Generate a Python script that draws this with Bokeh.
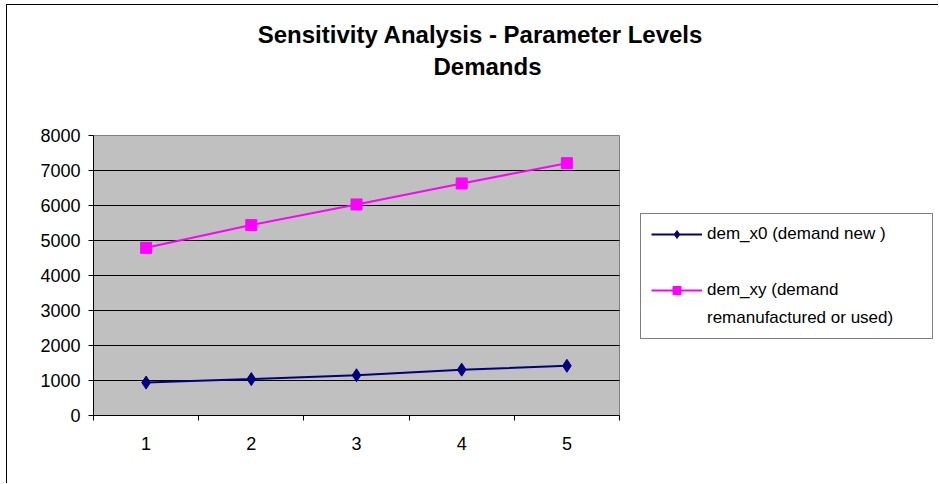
from bokeh.plotting import figure
from bokeh.models import Range1d, FixedTicker, Legend, LegendItem, Label
from bokeh.embed import file_html
from bokeh.resources import INLINE

# ---- data ----
categories = ["1", "2", "3", "4", "5"]
x_pos = [1, 2, 3, 4, 5]
dem_x0 = [940, 1040, 1150, 1310, 1420]
dem_xy = [4790, 5440, 6030, 6630, 7210]
y_ticks = [0, 1000, 2000, 3000, 4000, 5000, 6000, 7000, 8000]
cat_bounds = [0.5, 1.5, 2.5, 3.5, 4.5, 5.5]
title_lines = ["Sensitivity Analysis - Parameter Levels", "Demands"]
name_x0 = "dem_x0 (demand new )"
name_xy_lines = ["dem_xy (demand", "remanufactured or used)"]

FONT = "Liberation Sans"
NAVY = "#000080"
MAGENTA = "#FF00FF"

# ---- layout geometry (pixels) ----
W, H = 932, 479              # canvas (inside the 1px chart border)
LEFT, BOTTOM = 86, 69        # space for y labels / x labels
PLOT_W, PLOT_H = 526, 280    # grey plot area
frame_w, frame_h = W - LEFT, H - BOTTOM
x_start, x_stop = cat_bounds[0], cat_bounds[-1]
x_end = x_start + (x_stop - x_start) * frame_w / PLOT_W
y_end = y_ticks[-1] * frame_h / PLOT_H

p = figure(width=W, height=H, output_backend="svg", toolbar_location=None,
           x_range=Range1d(x_start, x_end), y_range=Range1d(0, y_end),
           min_border_left=LEFT, min_border_right=0, min_border_top=0,
           min_border_bottom=BOTTOM)
p.styles = {"margin-left": "6px", "margin-top": "4px",
            "border-top": "1px solid #000000", "border-left": "1px solid #000000"}

p.background_fill_color = "#FFFFFF"
p.border_fill_color = "#FFFFFF"
p.outline_line_color = None
p.xgrid.visible = False
p.ygrid.visible = False

# grey plot area and grid lines
p.quad(left=[x_start], right=[x_stop], bottom=[y_ticks[0]], top=[y_ticks[-1]],
       fill_color="#C0C0C0", line_color="#808080", line_width=1)
p.segment(x0=[x_start] * (len(y_ticks) - 2), y0=y_ticks[1:-1],
          x1=[x_stop] * (len(y_ticks) - 2), y1=y_ticks[1:-1],
          line_color="#000000", line_width=1)

# x axis
p.xaxis.bounds = (x_start, x_stop)
p.xaxis.ticker = FixedTicker(ticks=x_pos, minor_ticks=cat_bounds)
p.xaxis.major_label_overrides = {x: c for x, c in zip(x_pos, categories)}
p.xaxis.major_tick_out = 0
p.xaxis.major_tick_in = 0
p.xaxis.minor_tick_out = 5
p.xaxis.minor_tick_in = 0
p.xaxis.minor_tick_line_color = "#000000"
p.xaxis.axis_line_color = "#000000"
p.xaxis.major_label_standoff = 16
p.xaxis.major_label_text_font = FONT
p.xaxis.major_label_text_font_size = "18px"
p.xaxis.major_label_text_color = "#000000"

# y axis
p.yaxis.bounds = (y_ticks[0], y_ticks[-1])
p.yaxis.ticker = FixedTicker(ticks=y_ticks)
p.yaxis.major_tick_out = 5
p.yaxis.major_tick_in = 0
p.yaxis.minor_tick_line_color = None
p.yaxis.axis_line_color = "#000000"
p.yaxis.major_tick_line_color = "#000000"
p.yaxis.major_label_standoff = 8
p.yaxis.major_label_text_font = FONT
p.yaxis.major_label_text_font_size = "18px"
p.yaxis.major_label_text_color = "#000000"

# series
l0 = p.line(x_pos, dem_x0, line_color=NAVY, line_width=2)
m0 = p.scatter(x_pos, dem_x0, marker="diamond", size=13, fill_color=NAVY, line_color=NAVY)
l1 = p.line(x_pos, dem_xy, line_color=MAGENTA, line_width=2)
m1 = p.scatter(x_pos, dem_xy, marker="square", size=11, fill_color=MAGENTA, line_color=MAGENTA)
blank = p.line(x_pos, dem_xy, line_alpha=0)

legend = Legend(items=[
    LegendItem(label=name_x0, renderers=[l0, m0]),
    LegendItem(label=" ", renderers=[blank]),
    LegendItem(label=name_xy_lines[0], renderers=[l1, m1]),
    LegendItem(label=name_xy_lines[1], renderers=[blank]),
], location=(PLOT_W + 21, 76))
legend.border_line_color = "#000000"
legend.border_line_width = 1
legend.background_fill_color = "#FFFFFF"
legend.background_fill_alpha = 1
legend.padding = 10
legend.margin = 0
legend.spacing = 8
legend.label_height = 20
legend.label_width = 215
legend.glyph_height = 20
legend.glyph_width = 51
legend.label_standoff = 5
legend.label_text_font = FONT
legend.label_text_font_size = "17px"
legend.label_text_color = "#000000"
p.add_layout(legend, "center")

# title lines (frame-relative screen units)
for txt, xx, yy in zip(title_lines, [387, 394], [381, 349]):
    p.add_layout(Label(x=xx, y=yy, x_units="screen", y_units="screen", text=txt,
                       text_align="center", text_baseline="middle",
                       text_font=FONT, text_font_style="bold",
                       text_font_size="24px", text_color="#000000"))

open("out.html", "w").write(file_html(p, INLINE))
